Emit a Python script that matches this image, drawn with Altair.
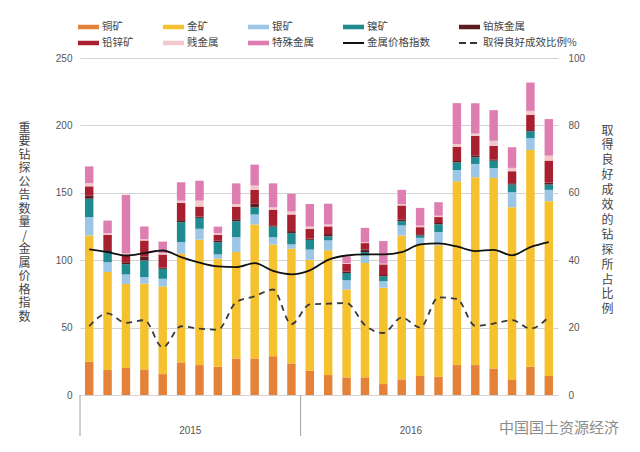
import altair as alt
import pandas as pd

# ---------------- data ----------------
months = ["2015-01", "2015-02", "2015-03", "2015-04", "2015-05", "2015-06",
          "2015-07", "2015-08", "2015-09", "2015-10", "2015-11", "2015-12",
          "2016-01", "2016-02", "2016-03", "2016-04", "2016-05", "2016-06",
          "2016-07", "2016-08", "2016-09", "2016-10", "2016-11", "2016-12",
          "2017-01", "2017-02"]

series = ["铜矿", "金矿", "银矿", "镍矿", "铂族金属", "铅锌矿", "贱金属", "特殊金属"]
line_names = ["金属价格指数", "取得良好成效比例%"]

copper = [24.7, 18.5, 20.0, 19.0, 15.5, 24.2, 22.2, 21.0, 27.1, 27.1, 28.8, 23.4, 18.0,
          14.8, 13.1, 13.1, 8.1, 11.6, 14.1, 13.6, 22.2, 22.2, 19.7, 11.1, 21.0, 14.1]
gold = [93.7, 72.7, 62.4, 63.6, 65.0, 80.6, 93.0, 80.1, 78.9, 99.4, 82.8, 85.1, 82.3,
        92.5, 65.1, 84.8, 71.5, 106.8, 97.6, 97.4, 136.3, 139.3, 141.3, 128.2, 160.7, 129.7]
silver = [13.6, 7.4, 7.0, 4.9, 5.7, 8.6, 8.1, 3.2, 11.1, 7.4, 5.4, 3.2, 7.6,
          7.4, 6.9, 5.7, 4.9, 7.4, 4.9, 9.9, 8.4, 9.9, 7.4, 11.1, 8.9, 8.4]
nickel = [13.6, 7.4, 7.6, 12.3, 7.4, 14.8, 8.1, 9.1, 11.8, 5.4, 7.9, 8.4, 7.2,
          3.0, 5.4, 2.5, 3.5, 3.2, 1.7, 5.7, 5.7, 4.9, 5.4, 5.7, 4.9, 3.9]
pgm = [2.5, 1.5, 1.5, 3.0, 1.0, 1.5, 1.0, 1.0, 1.5, 2.5, 1.0, 1.5, 1.0,
       1.7, 1.0, 1.7, 1.0, 1.0, 1.0, 1.0, 1.0, 1.5, 1.0, 1.0, 1.0, 1.5]
leadzinc = [6.7, 11.3, 5.5, 11.8, 9.6, 12.8, 7.4, 4.4, 9.3, 10.4, 11.6, 12.3, 7.1,
            5.7, 5.9, 4.9, 7.9, 10.6, 5.2, 4.4, 10.6, 14.5, 10.1, 8.9, 11.3, 16.3]
base = [2.5, 1.2, 1.0, 1.0, 1.0, 1.7, 4.4, 1.2, 2.0, 3.2, 1.7, 2.2, 1.7,
        1.5, 0.5, 0.7, 0.5, 1.0, 1.2, 1.0, 2.0, 1.7, 3.7, 2.5, 3.0, 3.7]
special = [12.3, 9.4, 43.5, 9.4, 8.6, 13.6, 14.8, 4.9, 15.3, 15.5, 17.8, 13.1, 16.8,
           15.3, 4.9, 10.6, 16.8, 10.6, 13.1, 10.0, 30.3, 22.4, 22.7, 15.3, 21.0, 27.1]

price_index = [108.0, 106.0, 103.5, 105.3, 107.2, 102.3, 98.2, 95.4, 94.9, 97.9, 92.0, 89.5, 92.5,
               100.3, 103.5, 104.3, 104.3, 106.0, 111.7, 112.5, 110.2, 106.8, 107.7, 103.6, 109.7, 113.4]
success_pct = [20.4, 24.2, 21.4, 22.2, 14.1, 20.4, 19.7, 19.4, 27.6, 29.3, 31.3, 21.0, 26.9,
               27.1, 27.3, 20.7, 18.4, 23.0, 20.0, 29.0, 28.5, 20.5, 21.2, 22.2, 19.7, 23.2]

bar_colors = ["#E4823A", "#F5C12E", "#9DC6E6", "#1F8A8F", "#5C1C22", "#A8202F", "#F3C7CB", "#DE7DB0"]
line_colors = ["#111111", "#333333"]

year_labels = ["2015", "2016"]
year_label_at = ["2015-07", "2016-07"]
year_starts = ["2015-01", "2016-01"]
watermark = ["中国国土资源经济"]

left_title = "重要钻探公告数量/金属价格指数"
right_title = "取得良好成效的钻探所占比例"

# ---------------- tables ----------------
series_values = [copper, gold, silver, nickel, pgm, leadzinc, base, special]
rows = []
for k, (name, vals) in enumerate(zip(series, series_values)):
    for m, v in zip(months, vals):
        rows.append({"month": m, "series": name, "value": v, "k": k})
bars_df = pd.DataFrame(rows)
lines_df = pd.DataFrame({"month": months, "index": price_index, "pct": success_pct})
sep_df = pd.DataFrame({"month": year_starts})
yl_df = pd.DataFrame({"month": year_label_at, "label": year_labels})
wm_df = pd.DataFrame({"t": watermark})

W, H = 478, 337
CJK = "Noto Sans CJK SC"
LAT = "Liberation Sans"

x_scale = alt.Scale(domain=months, paddingInner=0, paddingOuter=0)
legend_names = series + line_names
is_line = "(datum.value == '金属价格指数' || datum.value == '取得良好成效比例%')"

legend = alt.Legend(
    orient="none", legendX=-3, legendY=-39, direction="horizontal", columns=5,
    title=None,
    symbolType=alt.ExprRef(f"{is_line} ? 'stroke' : 'M-1,-0.22H1V0.22H-1Z'"),
    symbolSize=441, symbolStrokeWidth=2,
    symbolStrokeColor=alt.ExprRef(
        "datum.value == '金属价格指数' ? '#111111' : "
        "(datum.value == '取得良好成效比例%' ? '#333333' : 'transparent')"),
    symbolDash=alt.ExprRef("datum.value == '取得良好成效比例%' ? [7, 4] : [1, 0]"),
    symbolOpacity=1,
    labelFont=CJK, labelFontSize=10.5, labelColor="#444444", labelOffset=2,
    columnPadding=28, rowPadding=0, clipHeight=16, padding=0,
)

left_axis = alt.Axis(
    values=[0, 50, 100, 150, 200, 250], grid=True, gridColor="#d3d3d3", gridWidth=1,
    domain=False, ticks=False, labelPadding=8, labelFont=LAT, labelFontSize=10,
    labelColor="#555555",
    title=list(left_title), titleAngle=0, titleX=-56, titleY=64, titleAlign="center",
    titleBaseline="top", titleFont=CJK, titleFontSize=12, titleLineHeight=13.5,
    titleFontWeight="normal", titleColor="#444444",
)
right_axis = alt.Axis(
    orient="right", values=[0, 20, 40, 60, 80, 100], grid=False, domain=False, ticks=False,
    labelPadding=10, labelFont=LAT, labelFontSize=10, labelColor="#555555",
    title=list(right_title), titleAngle=0, titleX=49, titleY=67, titleAlign="center",
    titleBaseline="top", titleFont=CJK, titleFontSize=12, titleLineHeight=14.9,
    titleFontWeight="normal", titleColor="#444444",
)
x_axis = alt.Axis(labels=False, title=None, tickBand="extent", tickSize=21, ticks=True,
                  tickColor="#a0a0a0", domainColor="#a0a0a0", grid=False)

bars = alt.Chart(bars_df).mark_bar(width=alt.RelativeBandSize(0.46)).encode(
    x=alt.X("month:O", scale=x_scale, axis=x_axis),
    y=alt.Y("value:Q", stack="zero", scale=alt.Scale(domain=[0, 250], nice=False), axis=left_axis),
    color=alt.Color("series:N", scale=alt.Scale(domain=legend_names, range=bar_colors + line_colors),
                    legend=legend),
    order=alt.Order("k:Q", sort="ascending"),
)

price_line = alt.Chart(lines_df).mark_line(color="#111111", strokeWidth=1.8, interpolate="monotone").encode(
    x=alt.X("month:O", scale=x_scale, axis=None),
    y=alt.Y("index:Q", scale=alt.Scale(domain=[0, 250], nice=False), axis=None),
)

pct_line = alt.Chart(lines_df).mark_line(color="#3a3a3a", strokeWidth=1.8, strokeDash=[6, 5],
                                         interpolate="monotone").encode(
    x=alt.X("month:O", scale=x_scale, axis=None),
    y=alt.Y("pct:Q", scale=alt.Scale(domain=[0, 100], nice=False), axis=right_axis),
)

sep = alt.Chart(sep_df).mark_rule(color="#a0a0a0", strokeWidth=1).encode(
    x=alt.X("month:O", scale=x_scale, bandPosition=0, axis=None),
    y=alt.value(H), y2=alt.value(H + 41),
)

years = alt.Chart(yl_df).mark_text(fontSize=10, color="#555555", font=LAT, baseline="middle").encode(
    x=alt.X("month:O", scale=x_scale, bandPosition=0, axis=None),
    y=alt.value(H + 36), text="label:N",
)

wm = alt.Chart(wm_df).mark_text(align="left", baseline="middle", fontSize=15, font=CJK,
                                color="#8c8c8c").encode(
    x=alt.value(419), y=alt.value(370), text="t:N",
)

chart = alt.layer(bars, price_line, pct_line, sep, years, wm).resolve_scale(
    y="independent"
).properties(
    width=W, height=H,
    padding={"left": 72, "top": 50, "right": 74, "bottom": 49},
    autosize=alt.AutoSizeParams(type="none"),
).configure_view(stroke=None)

chart.save("out.html", embed_options={"renderer": "svg", "actions": False})
